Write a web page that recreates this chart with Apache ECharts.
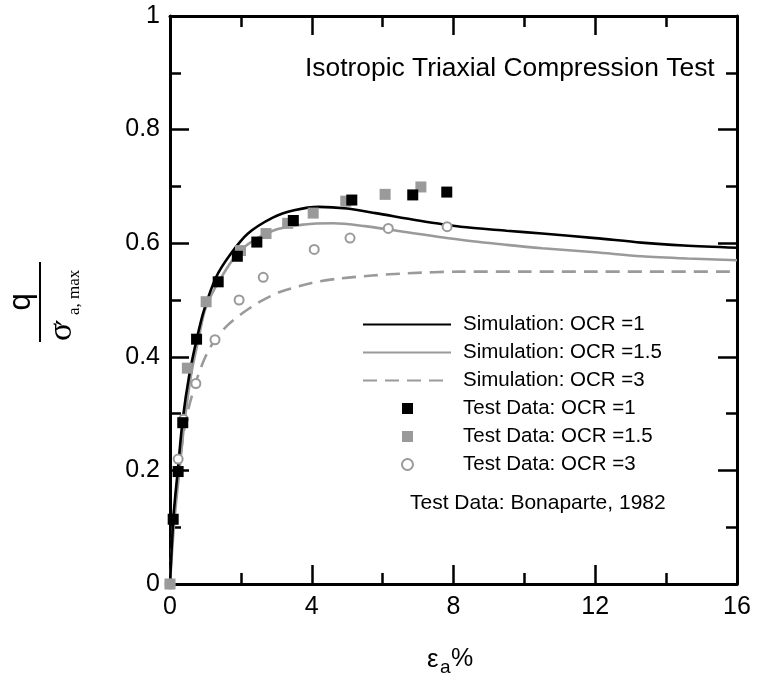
<!DOCTYPE html>
<html>
<head>
<meta charset="utf-8">
<script src="https://cdn.jsdelivr.net/npm/echarts@6/dist/echarts.min.js"></script>
<style>
html,body{margin:0;padding:0;background:#fff;}
#chart{width:760px;height:686px;}
</style>
</head>
<body>
<div id="chart"></div>
<script>
// ---- Data ----
var xTicks = [0, 4, 8, 12, 16];
var yTicks = [0, 0.2, 0.4, 0.6, 0.8, 1];

var simOCR1 = [[0,0],[0.1,0.12],[0.22,0.2],[0.36,0.29],[0.55,0.37],[0.75,0.43],[0.95,0.48],[1.3,0.54],[1.7,0.58],[2.2,0.617],[2.9,0.645],[3.5,0.658],[4.2,0.664],[5.0,0.661],[5.8,0.653],[7.0,0.64],[8.2,0.629],[9.5,0.622],[10.5,0.617],[12,0.609],[13.3,0.601],[14.5,0.596],[16,0.592]];
var simOCR15 = [[0,0],[0.12,0.11],[0.25,0.19],[0.4,0.28],[0.6,0.37],[0.8,0.43],[1.0,0.485],[1.4,0.535],[2.0,0.588],[2.9,0.622],[3.8,0.633],[4.6,0.635],[5.5,0.63],[6.5,0.621],[8.2,0.606],[9.5,0.597],[10.5,0.591],[12,0.584],[13.3,0.577],[14.6,0.573],[16,0.57]];
var simOCR3 = [[0,0],[0.1,0.118],[0.28,0.218],[0.47,0.295],[0.75,0.359],[1.0,0.4],[1.27,0.43],[1.65,0.457],[2.07,0.478],[2.54,0.497],[3.1,0.514],[4.0,0.53],[4.8,0.538],[5.7,0.543],[6.7,0.547],[8.2,0.55],[10,0.55],[12,0.55],[14,0.55],[16,0.55]];

var testOCR1 = [[0.09,0.114],[0.23,0.198],[0.36,0.284],[0.75,0.431],[1.36,0.532],[1.9,0.577],[2.45,0.602],[3.48,0.64],[5.13,0.676],[6.85,0.685],[7.81,0.69]];
var testOCR15 = [[0,0],[0.49,0.38],[1.02,0.497],[1.99,0.587],[2.71,0.617],[3.32,0.635],[4.04,0.653],[4.96,0.674],[6.07,0.686],[7.08,0.699]];
var testOCR3 = [[0,0],[0.23,0.22],[0.38,0.29],[0.73,0.353],[1.27,0.43],[1.95,0.5],[2.63,0.54],[4.07,0.589],[5.08,0.609],[6.16,0.626],[7.82,0.629]];

var seriesNames = ['Simulation: OCR =1','Simulation: OCR =1.5','Simulation: OCR =3','Test Data: OCR =1','Test Data: OCR =1.5','Test Data: OCR =3'];
var titleText = 'Isotropic Triaxial Compression Test';
var sourceText = 'Test Data: Bonaparte, 1982';

// ---- Styles ----
var GRAY = '#9a9a9a';
var FONT = '"Liberation Sans", Arial, sans-serif';
var SERIF = '"Liberation Serif", "Times New Roman", serif';

function axisCommon(showLabel) {
  return {
    axisLine: {show: true, onZero: false, lineStyle: {color: '#000', width: 3}},
    axisTick: {show: true, inside: true, length: 19, lineStyle: {color: '#000', width: 2.5}},
    minorTick: {show: true, splitNumber: 2, length: 11, lineStyle: {color: '#000', width: 2.5}},
    splitLine: {show: false},
    minorSplitLine: {show: false},
    axisLabel: {show: showLabel, color: '#000', fontSize: 25, fontFamily: FONT}
  };
}

var xBottom = Object.assign(axisCommon(true), {type: 'value', min: xTicks[0], max: xTicks[xTicks.length-1], interval: xTicks[1]-xTicks[0], position: 'bottom'});
xBottom.axisLabel.margin = 11;
var xTop = Object.assign(axisCommon(false), {type: 'value', min: xTicks[0], max: xTicks[xTicks.length-1], interval: xTicks[1]-xTicks[0], position: 'top'});
var yLeft = Object.assign(axisCommon(true), {type: 'value', min: yTicks[0], max: yTicks[yTicks.length-1], interval: yTicks[1]-yTicks[0], position: 'left'});
yLeft.axisLabel.margin = 10;
var yRight = Object.assign(axisCommon(false), {type: 'value', min: yTicks[0], max: yTicks[yTicks.length-1], interval: yTicks[1]-yTicks[0], position: 'right'});

var legendText = {color: '#000', fontSize: 20.5, fontFamily: FONT, lineHeight: 20};

var chart = echarts.init(document.getElementById('chart'), null, {renderer: 'canvas'});
chart.setOption({
  animation: false,
  backgroundColor: '#fff',
  grid: {left: 170, right: 23, top: 16, bottom: 102, containLabel: false},
  xAxis: [xBottom, xTop],
  yAxis: [yLeft, yRight],
  legend: [
    {
      orient: 'vertical',
      left: 362, top: 314, padding: 0,
      itemWidth: 88, itemHeight: 11, itemGap: 7,
      textStyle: Object.assign({padding: [0,0,0,7]}, legendText),
      data: seriesNames.slice(0, 3).map(function (n) { return {name: n, itemStyle: {opacity: 0}}; })
    },
    {
      orient: 'vertical',
      left: 401, top: 398, padding: 0,
      itemWidth: 11, itemHeight: 11, itemGap: 7,
      textStyle: Object.assign({padding: [0,0,0,45]}, legendText),
      data: seriesNames.slice(3)
    }
  ],
  series: [
    {name: seriesNames[0], type: 'line', data: simOCR1, showSymbol: false, symbol: 'none', smooth: 0.3, z: 3,
     lineStyle: {color: '#000', width: 2.6}, itemStyle: {color: '#000'}},
    {name: seriesNames[1], type: 'line', data: simOCR15, showSymbol: false, symbol: 'none', smooth: 0.3, z: 2,
     lineStyle: {color: GRAY, width: 2.6}, itemStyle: {color: GRAY}},
    {name: seriesNames[2], type: 'line', data: simOCR3, showSymbol: false, symbol: 'none', smooth: 0.3, z: 2,
     lineStyle: {color: GRAY, width: 2.6, type: [14, 8]}, itemStyle: {color: GRAY}},
    {name: seriesNames[3], type: 'scatter', data: testOCR1, symbol: 'rect', symbolSize: 11, z: 6,
     itemStyle: {color: '#000', opacity: 1}},
    {name: seriesNames[4], type: 'scatter', data: testOCR15, symbol: 'rect', symbolSize: 11, z: 5,
     itemStyle: {color: GRAY, opacity: 1}},
    {name: seriesNames[5], type: 'scatter', data: testOCR3, symbol: 'emptyCircle', symbolSize: 9, z: 4,
     itemStyle: {color: GRAY, borderColor: GRAY, borderWidth: 2.2, opacity: 1}}
  ],
  graphic: [
    {type: 'text', left: 305, top: 56, style: {text: titleText, font: '26.4px ' + FONT, fill: '#000'}},
    {type: 'text', left: 410, top: 493, style: {text: sourceText, font: '21px ' + FONT, fill: '#000'}},
    // x-axis title: εa%
    {type: 'text', x: 427, y: 660, style: {text: 'ε', font: '26px ' + FONT, fill: '#000', align: 'left', verticalAlign: 'middle'}},
    {type: 'text', x: 440, y: 668, style: {text: 'a', font: '19px ' + FONT, fill: '#000', align: 'left', verticalAlign: 'middle'}},
    {type: 'text', x: 451, y: 659, style: {text: '%', font: '25px ' + FONT, fill: '#000', align: 'left', verticalAlign: 'middle'}},
    // y-axis title: q / σ'a,max (rotated)
    {type: 'group', x: 40, y: 302, rotation: Math.PI / 2, children: [
      {type: 'line', shape: {x1: -40, y1: 0, x2: 40, y2: 0}, style: {stroke: '#000', lineWidth: 2}},
      {type: 'text', x: 0, y: -3, style: {text: 'q', font: '31px ' + FONT, fill: '#000', align: 'center', verticalAlign: 'bottom'}},
      {type: 'text', x: -39, y: 22, style: {text: 'σ', font: '34px ' + SERIF, fill: '#000', align: 'left', verticalAlign: 'middle'}},
      {type: 'text', x: -24, y: 30, style: {text: '′', font: '30px "DejaVu Serif", serif', fill: '#000', align: 'left', verticalAlign: 'middle'}},
      {type: 'text', x: -13, y: 35, style: {text: 'a, max', font: '17px ' + SERIF, fill: '#000', align: 'left', verticalAlign: 'middle'}}
    ]}
  ]
});
</script>
</body>
</html>
